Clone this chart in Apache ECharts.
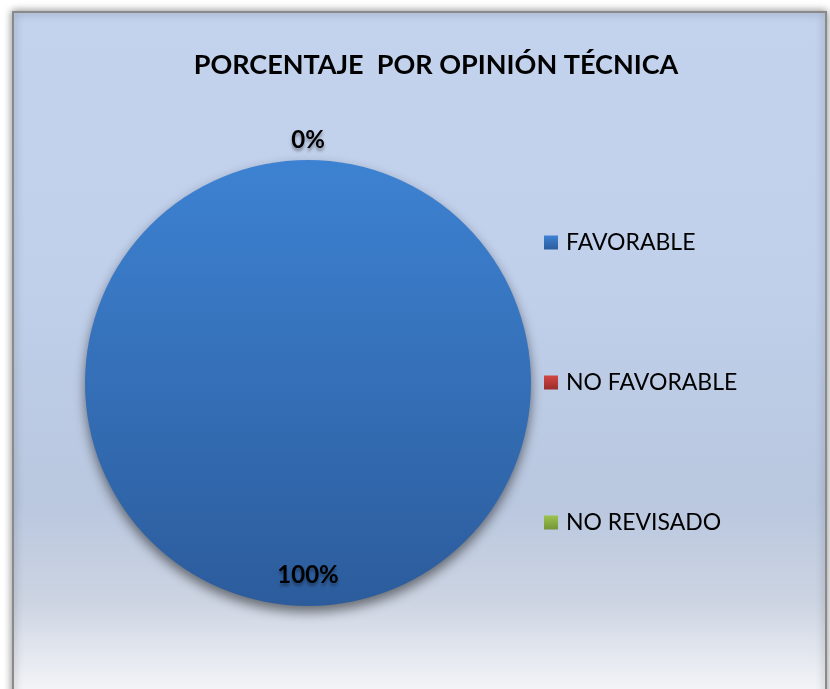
<!DOCTYPE html>
<html><head><meta charset="utf-8">
<script src="https://cdn.jsdelivr.net/npm/echarts@6/dist/echarts.min.js"></script>
<style>html,body{margin:0;padding:0;background:#fff;}#c{width:830px;height:689px;}</style>
</head><body><div id="c"></div>
<script>
const titleText = 'PORCENTAJE  POR OPINIÓN TÉCNICA';
const categories = ['FAVORABLE', 'NO FAVORABLE', 'NO REVISADO'];
const values = [100, 0, 0];
const topColors = ['#3d82d2', '#d24543', '#9dc34c'];
const bottomColors = ['#2c5c9c', '#9a2d2b', '#74953a'];

const FONT = 'Lato';
function grad(i){
  return new echarts.graphic.LinearGradient(0,0,0,1,[{offset:0,color:topColors[i]},{offset:1,color:bottomColors[i]}]);
}
const mainData = categories.map((n,i)=>({name:n,value:values[i],itemStyle:{color:grad(i)}}));
const labelStyle = {color:'#000',fontFamily:FONT,fontWeight:'bold',fontSize:24,
  textShadowColor:'rgba(0,0,0,0.35)',textShadowBlur:3,textShadowOffsetY:3,formatter:'{d}%'};
function overlay(r0,r1,showFn){
  return {type:'pie',center:[308,383],radius:[r0,r1],startAngle:90,clockwise:true,silent:true,
    legendHoverLink:false,avoidLabelOverlap:false,emphasis:{disabled:true},z:5,
    itemStyle:{color:'rgba(0,0,0,0)'},labelLine:{show:false},
    data:categories.map((n,i)=>({name:n,value:values[i],label:Object.assign({show:showFn(i),position:'inside'},labelStyle)}))};
}
const chart = echarts.init(document.getElementById('c'));
chart.setOption({
  animation:false,
  graphic:[{type:'rect',z:-1,shape:{x:13,y:12,width:813,height:700},
    style:{fill:new echarts.graphic.LinearGradient(0,0,0,1,[
      {offset:0,color:'#c3d2ed'},{offset:0.4,color:'#c0cfea'},{offset:0.7,color:'#b9c7df'},
      {offset:0.84,color:'#ccd4e2'},{offset:0.97,color:'#f4f5f8'},{offset:1,color:'#f7f8fa'}]),
      stroke:'#8a8a8a',lineWidth:2,shadowBlur:8,shadowColor:'rgba(0,0,0,0.45)',shadowOffsetX:0,shadowOffsetY:0}}],
  title:{text:titleText,left:431,top:47,textAlign:'center',
    textStyle:{fontFamily:FONT,fontWeight:'bold',fontSize:27,color:'#000'}},
  legend:categories.map((n,i)=>({data:[n],orient:'vertical',left:544,top:231+140*i,padding:0,itemWidth:14,itemHeight:14,itemGap:0,
    selectedMode:false,icon:'rect',textStyle:{fontFamily:FONT,fontSize:23,color:'#000',padding:[0,0,0,3]}})),
  series:[
    {type:'pie',center:[308,383],radius:223,startAngle:90,clockwise:true,avoidLabelOverlap:false,
      label:{show:false},labelLine:{show:false},
      itemStyle:{shadowBlur:12,shadowOffsetY:6,shadowColor:'rgba(0,0,0,0.5)'},
      data:mainData},
    overlay(179,199,i=>values[i]>0),
    overlay(230,250,i=>values[i]===0 && i===1)
  ]
});
</script></body></html>
